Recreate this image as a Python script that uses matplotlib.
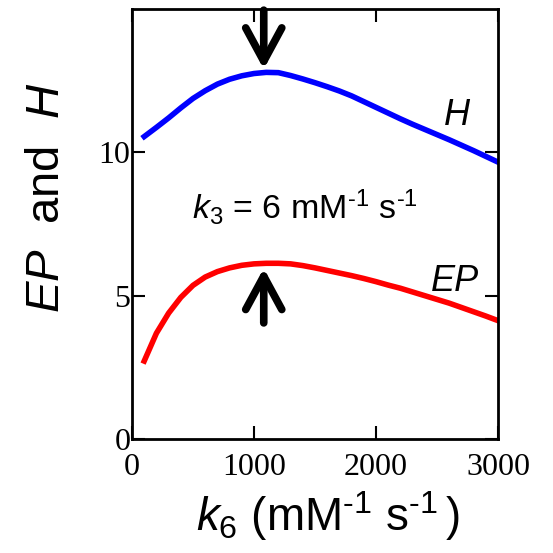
import matplotlib
matplotlib.use("Agg")
import matplotlib.pyplot as plt

plt.rcParams['mathtext.fontset'] = 'custom'
plt.rcParams['mathtext.rm'] = 'Liberation Sans'
plt.rcParams['mathtext.it'] = 'Liberation Sans:italic'
plt.rcParams['mathtext.bf'] = 'Liberation Sans:bold'

k6 = [100, 200, 300, 400, 500, 600, 700, 800, 900, 1000,
      1100, 1200, 1300, 1400, 1500, 1600, 1700, 1800, 1900, 2000,
      2100, 2200, 2300, 2400, 2500, 2600, 2700, 2800, 2900, 3000]
H = [10.55, 10.87, 11.20, 11.55, 11.88, 12.15, 12.38, 12.55, 12.67, 12.75,
     12.79, 12.78, 12.68, 12.56, 12.43, 12.29, 12.14, 11.97, 11.77, 11.57,
     11.37, 11.17, 10.98, 10.80, 10.62, 10.44, 10.25, 10.06, 9.86, 9.66]
EP = [2.72, 3.69, 4.39, 4.94, 5.36, 5.65, 5.84, 5.97, 6.06, 6.11,
      6.13, 6.13, 6.11, 6.05, 5.97, 5.88, 5.79, 5.70, 5.60, 5.49,
      5.37, 5.26, 5.13, 5.00, 4.87, 4.74, 4.59, 4.44, 4.29, 4.13]
xticks = [0, 1000, 2000, 3000]
yticks = [0, 5, 10]
peak_k6 = 1080

fig = plt.figure(figsize=(5.53, 5.53), dpi=100)
ax = fig.add_axes([0.2387, 0.2061, 0.6618, 0.7776])

ax.plot(k6, H, color='#0000ff', lw=4.0)
ax.plot(k6, EP, color='#ff0000', lw=4.0)

ax.set_xlim(0, 3000)
ax.set_ylim(0, 15)
ax.set_xticks(xticks)
ax.set_yticks(yticks)
ax.tick_params(direction='in', length=9.5, width=1.5, top=True, right=True,
               labelsize=23, pad=10)
ax.tick_params(axis='y', pad=1)
for lab in ax.get_xticklabels() + ax.get_yticklabels():
    lab.set_family('Liberation Serif')
for s in ax.spines.values():
    s.set_linewidth(2)

ax.set_xlabel(r'$\mathit{k}_6$ (mM$^{\text{-}1}$ s$^{\text{-}1}\,$)', fontsize=33,
              family='Liberation Sans')
ax.xaxis.set_label_coords(0.536, -0.117)
ax.set_ylabel(r'$\mathit{EP}$  and  $\mathit{H}$', fontsize=34,
              family='Liberation Sans')
ax.yaxis.set_label_coords(-0.172, 0.5616)

ax.text(1418, 8.1, r'$\mathit{k}_3$ = 6 mM$^{\text{-}1}$ s$^{\text{-}1}$', fontsize=24.5,
        family='Liberation Sans', ha='center', va='center')
ax.text(2660, 11.3, 'H', fontsize=26, style='italic', family='Liberation Sans',
        ha='center', va='center')
ax.text(2650, 5.5, 'EP', fontsize=26, style='italic', family='Liberation Sans',
        ha='center', va='center')

arrow = dict(arrowstyle='->,head_length=2.4,head_width=1.3', color='black',
             lw=5.5, shrinkA=0, shrinkB=0)
ax.annotate('', xy=(peak_k6, 12.9), xytext=(peak_k6, 14.96), arrowprops=arrow)
ax.annotate('', xy=(peak_k6, 5.96), xytext=(peak_k6, 4.05), arrowprops=arrow)

fig.savefig('out.png', dpi=100)
